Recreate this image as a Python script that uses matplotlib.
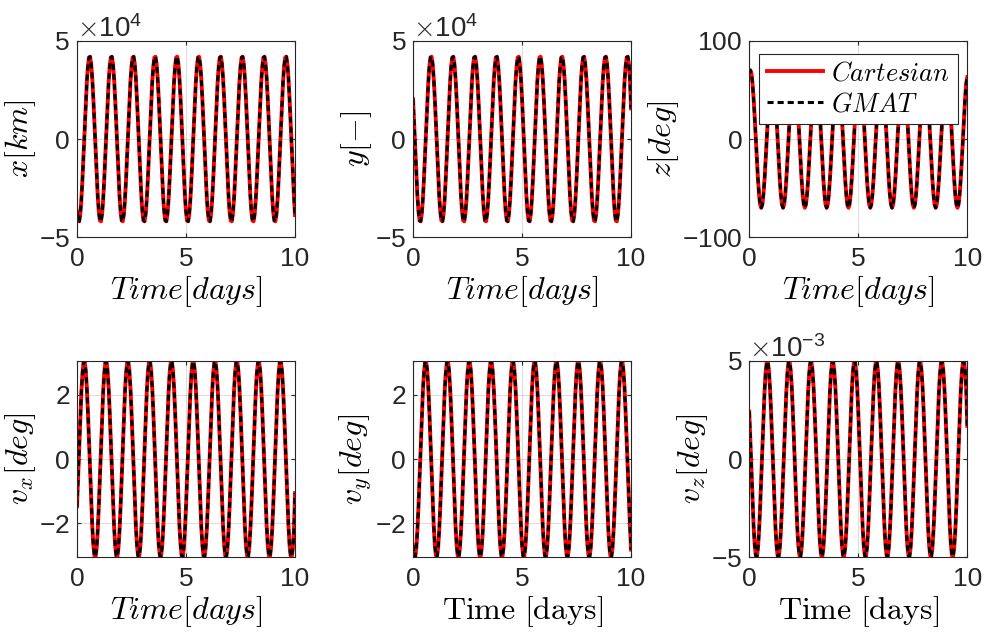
import numpy as np
import matplotlib
matplotlib.use("Agg")
import matplotlib.pyplot as plt
from matplotlib.ticker import ScalarFormatter

plt.rcParams['font.family'] = 'Liberation Sans'
plt.rcParams['mathtext.fontset'] = 'cm'
plt.rcParams['axes.unicode_minus'] = False

# sample times, 0.05 day step over 10 days
t_days = np.linspace(0, 10, 201)

# position [1e4 km], one row per day
x_1e4km = [
    -3.70, -4.15, -4.19, -3.82, -3.08, -2.03, -0.79, 0.53, 1.80, 2.89, 3.70, 4.15, 4.19, 3.82, 3.08, 2.03, 0.79, -0.53, -1.80, -2.89,
    -3.70, -4.15, -4.19, -3.82, -3.08, -2.03, -0.79, 0.53, 1.80, 2.89, 3.70, 4.15, 4.19, 3.82, 3.08, 2.03, 0.79, -0.53, -1.80, -2.89,
    -3.70, -4.15, -4.19, -3.82, -3.08, -2.03, -0.79, 0.53, 1.80, 2.89, 3.70, 4.15, 4.19, 3.82, 3.08, 2.03, 0.79, -0.53, -1.80, -2.89,
    -3.70, -4.15, -4.19, -3.82, -3.08, -2.03, -0.79, 0.53, 1.80, 2.89, 3.70, 4.15, 4.19, 3.82, 3.08, 2.03, 0.79, -0.53, -1.80, -2.89,
    -3.70, -4.15, -4.19, -3.82, -3.08, -2.03, -0.79, 0.53, 1.80, 2.89, 3.70, 4.15, 4.19, 3.82, 3.08, 2.03, 0.79, -0.53, -1.80, -2.89,
    -3.70, -4.15, -4.19, -3.82, -3.08, -2.03, -0.79, 0.53, 1.80, 2.89, 3.70, 4.15, 4.19, 3.82, 3.08, 2.03, 0.79, -0.53, -1.80, -2.89,
    -3.70, -4.15, -4.19, -3.82, -3.08, -2.03, -0.79, 0.53, 1.80, 2.89, 3.70, 4.15, 4.19, 3.82, 3.08, 2.03, 0.79, -0.53, -1.80, -2.89,
    -3.70, -4.15, -4.19, -3.82, -3.08, -2.03, -0.79, 0.53, 1.80, 2.89, 3.70, 4.15, 4.19, 3.82, 3.08, 2.03, 0.79, -0.53, -1.80, -2.89,
    -3.70, -4.15, -4.19, -3.82, -3.08, -2.03, -0.79, 0.53, 1.80, 2.89, 3.70, 4.15, 4.19, 3.82, 3.08, 2.03, 0.79, -0.53, -1.80, -2.89,
    -3.70, -4.15, -4.19, -3.82, -3.08, -2.03, -0.79, 0.53, 1.80, 2.89, 3.70, 4.15, 4.19, 3.82, 3.08, 2.03, 0.79, -0.53, -1.80, -2.89,
    -3.87,
]
y_1e4km = [
    2.03, 0.79, -0.53, -1.80, -2.89, -3.70, -4.15, -4.19, -3.82, -3.08, -2.03, -0.79, 0.53, 1.80, 2.89, 3.70, 4.15, 4.19, 3.82, 3.08,
    2.03, 0.79, -0.53, -1.80, -2.89, -3.70, -4.15, -4.19, -3.82, -3.08, -2.03, -0.79, 0.53, 1.80, 2.89, 3.70, 4.15, 4.19, 3.82, 3.08,
    2.03, 0.79, -0.53, -1.80, -2.89, -3.70, -4.15, -4.19, -3.82, -3.08, -2.03, -0.79, 0.53, 1.80, 2.89, 3.70, 4.15, 4.19, 3.82, 3.08,
    2.03, 0.79, -0.53, -1.80, -2.89, -3.70, -4.15, -4.19, -3.82, -3.08, -2.03, -0.79, 0.53, 1.80, 2.89, 3.70, 4.15, 4.19, 3.82, 3.08,
    2.03, 0.79, -0.53, -1.80, -2.89, -3.70, -4.15, -4.19, -3.82, -3.08, -2.03, -0.79, 0.53, 1.80, 2.89, 3.70, 4.15, 4.19, 3.82, 3.08,
    2.03, 0.79, -0.53, -1.80, -2.89, -3.70, -4.15, -4.19, -3.82, -3.08, -2.03, -0.79, 0.53, 1.80, 2.89, 3.70, 4.15, 4.19, 3.82, 3.08,
    2.03, 0.79, -0.53, -1.80, -2.89, -3.70, -4.15, -4.19, -3.82, -3.08, -2.03, -0.79, 0.53, 1.80, 2.89, 3.70, 4.15, 4.19, 3.82, 3.08,
    2.03, 0.79, -0.53, -1.80, -2.89, -3.70, -4.15, -4.19, -3.82, -3.08, -2.03, -0.79, 0.53, 1.80, 2.89, 3.70, 4.15, 4.19, 3.82, 3.08,
    2.03, 0.79, -0.53, -1.80, -2.89, -3.70, -4.15, -4.19, -3.82, -3.08, -2.03, -0.79, 0.53, 1.80, 2.89, 3.70, 4.15, 4.19, 3.82, 3.08,
    2.03, 0.79, -0.53, -1.80, -2.89, -3.70, -4.15, -4.19, -3.82, -3.08, -2.03, -0.79, 0.53, 1.80, 2.89, 3.70, 4.15, 4.19, 3.82, 3.08,
    1.56,
]
z_deg = [
    66.6, 70.0, 66.6, 56.6, 41.1, 21.6, 0.0, -21.6, -41.1, -56.6, -66.6, -70.0, -66.6, -56.6, -41.1, -21.6, 0.0, 21.6, 41.1, 56.6,
    66.6, 70.0, 66.6, 56.6, 41.1, 21.6, 0.0, -21.6, -41.1, -56.6, -66.6, -70.0, -66.6, -56.6, -41.1, -21.6, 0.0, 21.6, 41.1, 56.6,
    66.6, 70.0, 66.6, 56.6, 41.1, 21.6, 0.0, -21.6, -41.1, -56.6, -66.6, -70.0, -66.6, -56.6, -41.1, -21.6, 0.0, 21.6, 41.1, 56.6,
    66.6, 70.0, 66.6, 56.6, 41.1, 21.6, 0.0, -21.6, -41.1, -56.6, -66.6, -70.0, -66.6, -56.6, -41.1, -21.6, 0.0, 21.6, 41.1, 56.6,
    66.6, 70.0, 66.6, 56.6, 41.1, 21.6, 0.0, -21.6, -41.1, -56.6, -66.6, -70.0, -66.6, -56.6, -41.1, -21.6, 0.0, 21.6, 41.1, 56.6,
    66.6, 70.0, 66.6, 56.6, 41.1, 21.6, 0.0, -21.6, -41.1, -56.6, -66.6, -70.0, -66.6, -56.6, -41.1, -21.6, 0.0, 21.6, 41.1, 56.6,
    66.6, 70.0, 66.6, 56.6, 41.1, 21.6, 0.0, -21.6, -41.1, -56.6, -66.6, -70.0, -66.6, -56.6, -41.1, -21.6, 0.0, 21.6, 41.1, 56.6,
    66.6, 70.0, 66.6, 56.6, 41.1, 21.6, 0.0, -21.6, -41.1, -56.6, -66.6, -70.0, -66.6, -56.6, -41.1, -21.6, 0.0, 21.6, 41.1, 56.6,
    66.6, 70.0, 66.6, 56.6, 41.1, 21.6, 0.0, -21.6, -41.1, -56.6, -66.6, -70.0, -66.6, -56.6, -41.1, -21.6, 0.0, 21.6, 41.1, 56.6,
    66.6, 70.0, 66.6, 56.6, 41.1, 21.6, 0.0, -21.6, -41.1, -56.6, -66.6, -70.0, -66.6, -56.6, -41.1, -21.6, 0.0, 21.6, 41.1, 56.6,
    63.0,
]

# velocity components
vx = [
    -1.47, -0.57, 0.38, 1.30, 2.09, 2.68, 3.01, 3.04, 2.77, 2.23, 1.47, 0.57, -0.38, -1.30, -2.09, -2.68, -3.01, -3.04, -2.77, -2.23,
    -1.47, -0.57, 0.38, 1.30, 2.09, 2.68, 3.01, 3.04, 2.77, 2.23, 1.47, 0.57, -0.38, -1.30, -2.09, -2.68, -3.01, -3.04, -2.77, -2.23,
    -1.47, -0.57, 0.38, 1.30, 2.09, 2.68, 3.01, 3.04, 2.77, 2.23, 1.47, 0.57, -0.38, -1.30, -2.09, -2.68, -3.01, -3.04, -2.77, -2.23,
    -1.47, -0.57, 0.38, 1.30, 2.09, 2.68, 3.01, 3.04, 2.77, 2.23, 1.47, 0.57, -0.38, -1.30, -2.09, -2.68, -3.01, -3.04, -2.77, -2.23,
    -1.47, -0.57, 0.38, 1.30, 2.09, 2.68, 3.01, 3.04, 2.77, 2.23, 1.47, 0.57, -0.38, -1.30, -2.09, -2.68, -3.01, -3.04, -2.77, -2.23,
    -1.47, -0.57, 0.38, 1.30, 2.09, 2.68, 3.01, 3.04, 2.77, 2.23, 1.47, 0.57, -0.38, -1.30, -2.09, -2.68, -3.01, -3.04, -2.77, -2.23,
    -1.47, -0.57, 0.38, 1.30, 2.09, 2.68, 3.01, 3.04, 2.77, 2.23, 1.47, 0.57, -0.38, -1.30, -2.09, -2.68, -3.01, -3.04, -2.77, -2.23,
    -1.47, -0.57, 0.38, 1.30, 2.09, 2.68, 3.01, 3.04, 2.77, 2.23, 1.47, 0.57, -0.38, -1.30, -2.09, -2.68, -3.01, -3.04, -2.77, -2.23,
    -1.47, -0.57, 0.38, 1.30, 2.09, 2.68, 3.01, 3.04, 2.77, 2.23, 1.47, 0.57, -0.38, -1.30, -2.09, -2.68, -3.01, -3.04, -2.77, -2.23,
    -1.47, -0.57, 0.38, 1.30, 2.09, 2.68, 3.01, 3.04, 2.77, 2.23, 1.47, 0.57, -0.38, -1.30, -2.09, -2.68, -3.01, -3.04, -2.77, -2.23,
    -1.06,
]
vy = [
    -2.68, -3.01, -3.04, -2.77, -2.23, -1.47, -0.57, 0.38, 1.30, 2.09, 2.68, 3.01, 3.04, 2.77, 2.23, 1.47, 0.57, -0.38, -1.30, -2.09,
    -2.68, -3.01, -3.04, -2.77, -2.23, -1.47, -0.57, 0.38, 1.30, 2.09, 2.68, 3.01, 3.04, 2.77, 2.23, 1.47, 0.57, -0.38, -1.30, -2.09,
    -2.68, -3.01, -3.04, -2.77, -2.23, -1.47, -0.57, 0.38, 1.30, 2.09, 2.68, 3.01, 3.04, 2.77, 2.23, 1.47, 0.57, -0.38, -1.30, -2.09,
    -2.68, -3.01, -3.04, -2.77, -2.23, -1.47, -0.57, 0.38, 1.30, 2.09, 2.68, 3.01, 3.04, 2.77, 2.23, 1.47, 0.57, -0.38, -1.30, -2.09,
    -2.68, -3.01, -3.04, -2.77, -2.23, -1.47, -0.57, 0.38, 1.30, 2.09, 2.68, 3.01, 3.04, 2.77, 2.23, 1.47, 0.57, -0.38, -1.30, -2.09,
    -2.68, -3.01, -3.04, -2.77, -2.23, -1.47, -0.57, 0.38, 1.30, 2.09, 2.68, 3.01, 3.04, 2.77, 2.23, 1.47, 0.57, -0.38, -1.30, -2.09,
    -2.68, -3.01, -3.04, -2.77, -2.23, -1.47, -0.57, 0.38, 1.30, 2.09, 2.68, 3.01, 3.04, 2.77, 2.23, 1.47, 0.57, -0.38, -1.30, -2.09,
    -2.68, -3.01, -3.04, -2.77, -2.23, -1.47, -0.57, 0.38, 1.30, 2.09, 2.68, 3.01, 3.04, 2.77, 2.23, 1.47, 0.57, -0.38, -1.30, -2.09,
    -2.68, -3.01, -3.04, -2.77, -2.23, -1.47, -0.57, 0.38, 1.30, 2.09, 2.68, 3.01, 3.04, 2.77, 2.23, 1.47, 0.57, -0.38, -1.30, -2.09,
    -2.68, -3.01, -3.04, -2.77, -2.23, -1.47, -0.57, 0.38, 1.30, 2.09, 2.68, 3.01, 3.04, 2.77, 2.23, 1.47, 0.57, -0.38, -1.30, -2.09,
    -2.82,
]
vz_1e3 = [
    2.41, 0.94, -0.63, -2.13, -3.42, -4.38, -4.91, -4.96, -4.52, -3.65, -2.41, -0.94, 0.63, 2.13, 3.42, 4.38, 4.91, 4.96, 4.52, 3.65,
    2.41, 0.94, -0.63, -2.13, -3.42, -4.38, -4.91, -4.96, -4.52, -3.65, -2.41, -0.94, 0.63, 2.13, 3.42, 4.38, 4.91, 4.96, 4.52, 3.65,
    2.41, 0.94, -0.63, -2.13, -3.42, -4.38, -4.91, -4.96, -4.52, -3.65, -2.41, -0.94, 0.63, 2.13, 3.42, 4.38, 4.91, 4.96, 4.52, 3.65,
    2.41, 0.94, -0.63, -2.13, -3.42, -4.38, -4.91, -4.96, -4.52, -3.65, -2.41, -0.94, 0.63, 2.13, 3.42, 4.38, 4.91, 4.96, 4.52, 3.65,
    2.41, 0.94, -0.63, -2.13, -3.42, -4.38, -4.91, -4.96, -4.52, -3.65, -2.41, -0.94, 0.63, 2.13, 3.42, 4.38, 4.91, 4.96, 4.52, 3.65,
    2.41, 0.94, -0.63, -2.13, -3.42, -4.38, -4.91, -4.96, -4.52, -3.65, -2.41, -0.94, 0.63, 2.13, 3.42, 4.38, 4.91, 4.96, 4.52, 3.65,
    2.41, 0.94, -0.63, -2.13, -3.42, -4.38, -4.91, -4.96, -4.52, -3.65, -2.41, -0.94, 0.63, 2.13, 3.42, 4.38, 4.91, 4.96, 4.52, 3.65,
    2.41, 0.94, -0.63, -2.13, -3.42, -4.38, -4.91, -4.96, -4.52, -3.65, -2.41, -0.94, 0.63, 2.13, 3.42, 4.38, 4.91, 4.96, 4.52, 3.65,
    2.41, 0.94, -0.63, -2.13, -3.42, -4.38, -4.91, -4.96, -4.52, -3.65, -2.41, -0.94, 0.63, 2.13, 3.42, 4.38, 4.91, 4.96, 4.52, 3.65,
    2.41, 0.94, -0.63, -2.13, -3.42, -4.38, -4.91, -4.96, -4.52, -3.65, -2.41, -0.94, 0.63, 2.13, 3.42, 4.38, 4.91, 4.96, 4.52, 3.65,
    1.69,
]

panels = [
    (np.array(x_1e4km) * 1e4, r'$x[km]$', (-5e4, 5e4), [-5e4, 0, 5e4], r'$Time[days]$'),
    (np.array(y_1e4km) * 1e4, r'$y[-]$', (-5e4, 5e4), [-5e4, 0, 5e4], r'$Time[days]$'),
    (np.array(z_deg), r'$z[deg]$', (-100, 100), [-100, 0, 100], r'$Time[days]$'),
    (np.array(vx), r'$v_x[deg]$', (-3.06, 3.06), [-2, 0, 2], r'$Time[days]$'),
    (np.array(vy), r'$v_y[deg]$', (-3.06, 3.06), [-2, 0, 2], r'$\mathrm{Time\ [days]}$'),
    (np.array(vz_1e3) * 1e-3, r'$v_z[deg]$', (-5e-3, 5e-3), [-5e-3, 0, 5e-3], r'$\mathrm{Time\ [days]}$'),
]

fig = plt.figure(figsize=(9.86, 6.37), dpi=100)
lefts = [0.0781, 0.4189, 0.7599]
bottoms = [0.6275, 0.1251]
w, h = 0.2211, 0.3085
fc = '#262626'

for i, (vals, ylab, ylim, yticks, xlab) in enumerate(panels):
    ax = fig.add_axes([lefts[i % 3], bottoms[i // 3], w, h])
    ax.plot(t_days, vals, color='red', lw=2.8, label=r'$Cartesian$')
    ax.plot(t_days, vals, color='black', lw=2.2, ls=(0, (2.0, 1.3)), label=r'$GMAT$')
    ax.set_xlim(0, 10)
    ax.set_ylim(*ylim)
    ax.set_xticks([0, 5, 10])
    ax.set_yticks(yticks)
    fmt = ScalarFormatter(useMathText=True)
    fmt.set_powerlimits((-2, 3))
    ax.yaxis.set_major_formatter(fmt)
    off = ax.yaxis.get_offset_text()
    off.set_fontsize(20)
    off.set_color(fc)
    ax.grid(True, color='#262626', alpha=0.15, lw=0.8)
    ax.tick_params(direction='in', top=True, right=True, labelsize=19,
                   colors=fc, length=3, width=0.8)
    ax.tick_params(axis='x', pad=7)
    ax.tick_params(axis='y', pad=5)
    for s in ax.spines.values():
        s.set_color(fc)
        s.set_linewidth(0.8)
    ax.set_ylabel(ylab, fontsize=23, labelpad=1)
    ax.set_xlabel(xlab, fontsize=23, labelpad=2)
    if i == 2:
        leg = ax.legend(loc='upper right', bbox_to_anchor=(0.995, 0.975),
                        fontsize=19, fancybox=False, framealpha=1,
                        edgecolor=fc, handlelength=2.15, borderaxespad=0.3,
                        borderpad=0.3, labelspacing=0.25, handletextpad=0.3)
        leg.get_frame().set_linewidth(0.8)

fig.savefig('out.png', dpi=100)
